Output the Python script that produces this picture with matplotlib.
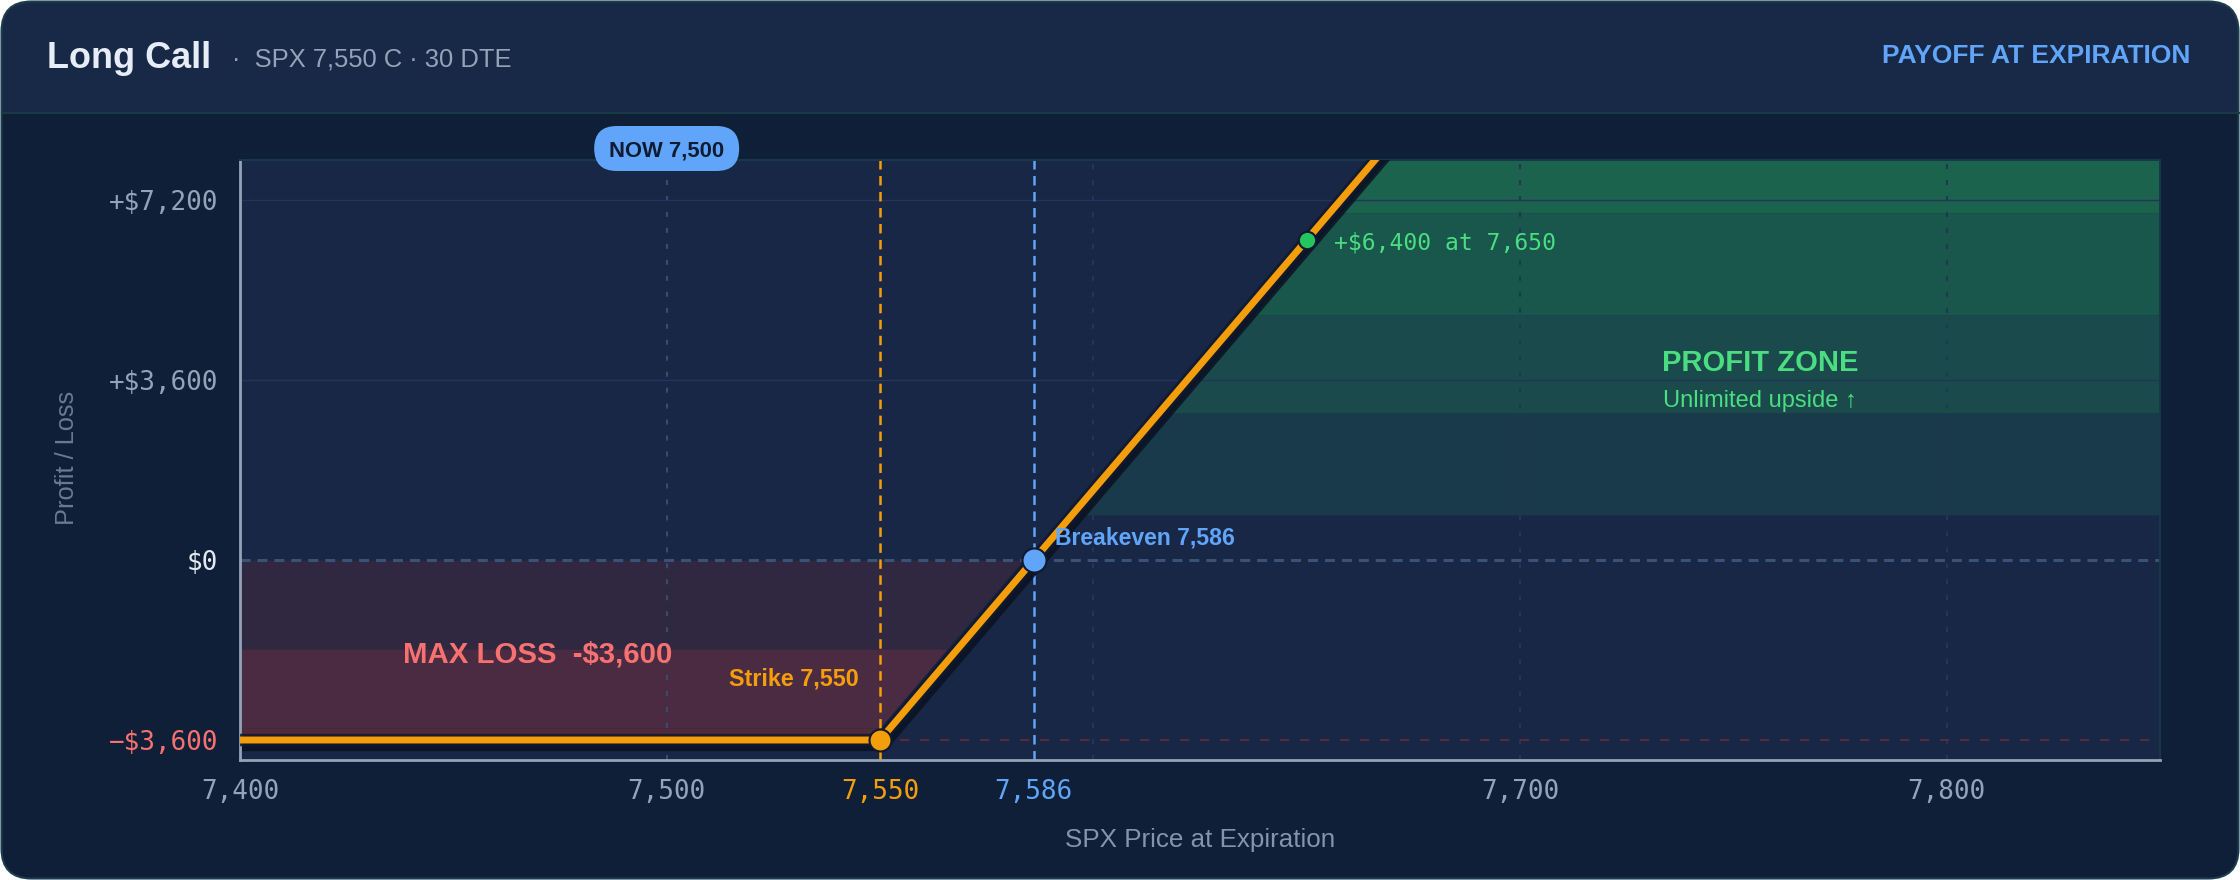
import numpy as np
import matplotlib
matplotlib.use('Agg')
import matplotlib.pyplot as plt
from matplotlib.patches import FancyBboxPatch, Rectangle
from matplotlib.lines import Line2D
from matplotlib.transforms import Affine2D
import matplotlib.patheffects as pe

plt.rcParams['lines.scale_dashes'] = False

# ---------------- data ----------------
strike = 7550
spot = 7500
breakeven = 7586
max_loss = -3600
payoff_price = [7400, 7550, 7850]
payoff_pnl = [-3600, -3600, 26400]
marker_price = 7650
marker_pnl = 6400
x_ticks = [7400, 7500, 7550, 7586, 7700, 7800]
x_tick_labels = ['7,400', '7,500', '7,550', '7,586', '7,700', '7,800']
y_ticks = [-3600, 0, 3600, 7200]
y_tick_labels = ['\u2212$3,600', '$0', '+$3,600', '+$7,200']
x_grid = [7500, 7600, 7700, 7800]
y_grid = [3600, 7200]
xlim = (7400, 7850)
ylim = (-4000, 8000)
profit_bands = [900, 2940, 4900, 6940, 8000]
profit_colors = ['#183a4a', '#1a4a4b', '#19564c', '#1b634d']
loss_bands = [0, -1780, -3360, -3600]
loss_colors = ['#2f2840', '#4a2b42', '#532a3a']

# ---------------- style ----------------
BODY = '#101f38'
HEADER = '#172947'
PLOT_BG = '#172745'
TEAL = '#173a46'
ORANGE = '#f59e0b'
BLUE = '#60a5fa'
GREEN = '#4ade80'
RED = '#f87171'
GRAY = '#94a3b8'
SANS = ['Liberation Sans', 'DejaVu Sans']
MONO = ['DejaVu Sans Mono']

W, H = 2240, 880
fig = plt.figure(figsize=(W / 100, H / 100), dpi=100, facecolor='white')
pix = Affine2D().scale(1 / W, 1 / H) + fig.transFigure


def top(y):
    return H - y


# card background
fig.add_artist(FancyBboxPatch((1.5, 1.5), W - 3, H - 3,
                              boxstyle='round,pad=0,rounding_size=30',
                              transform=pix, fc=BODY, ec='none', zorder=-30))
fig.add_artist(FancyBboxPatch((1.5, top(250)), W - 3, 250 - 1.5,
                              boxstyle='round,pad=0,rounding_size=30',
                              transform=pix, fc=HEADER, ec='none', zorder=-29))
fig.add_artist(Rectangle((1.5, top(300)), W - 3, 300 - 113,
                         transform=pix, fc=BODY, ec='none', zorder=-28))
fig.add_artist(Line2D([1.5, W - 1.5], [top(113), top(113)], transform=pix,
                      color=TEAL, lw=1.5, zorder=-27))
fig.add_artist(FancyBboxPatch((1.5, 1.5), W - 3, H - 3,
                              boxstyle='round,pad=0,rounding_size=30',
                              transform=pix, fc='none', ec='#1b3d4e', lw=1.5,
                              zorder=-20))

# header text
fig.text(47 / W, top(68) / H, 'Long Call', fontsize=25.9, fontweight='bold',
         color='#e6edf7', family=SANS, va='baseline', ha='left')
fig.text(232 / W, top(66) / H, '\u00b7  SPX 7,550 C \u00b7 30 DTE', fontsize=18.4,
         color=GRAY, family=SANS, va='baseline', ha='left')
fig.text(2190 / W, top(63) / H, 'PAYOFF AT EXPIRATION', fontsize=19,
         fontweight='bold', color=BLUE, family=SANS, va='baseline', ha='right')

# axes
ax = fig.add_axes([240 / W, 120 / H, 1920 / W, 600 / H])
ax.set_facecolor(PLOT_BG)
ax.set_xlim(*xlim)
ax.set_ylim(*ylim)
for s in ['top', 'right']:
    ax.spines[s].set_color(TEAL)
    ax.spines[s].set_linewidth(1.4)
for s in ['left', 'bottom']:
    ax.spines[s].set_color(GRAY)
    ax.spines[s].set_linewidth(2.0)


def inv_payoff(y):
    return np.interp(y, payoff_pnl[1:], payoff_price[1:])


gap = 2.5
# profit zone bands
for lo, hi, c in zip(profit_bands[:-1], profit_bands[1:], profit_colors):
    yy = np.linspace(lo, hi, 60)
    ax.fill_betweenx(yy, inv_payoff(yy) + gap, xlim[1], color=c, lw=0, zorder=0.5)
# loss zone bands
for hi, lo, c in zip(loss_bands[:-1], loss_bands[1:], loss_colors):
    yy = np.linspace(lo, hi, 60)
    ax.fill_betweenx(yy, xlim[0], inv_payoff(yy) - gap, color=c, lw=0, zorder=0.5)

# grid
for gx in x_grid:
    c = '#344e73' if gx == spot else '#25355a'
    ax.axvline(gx, color=c, lw=1.5, ls=(0, (3.6, 7.9)), zorder=1)
for gy in y_grid:
    ax.axhline(gy, color='#24345a', lw=1.0, zorder=1)
ax.axhline(0, color='#3b5278', lw=2.2, ls=(0, (7.2, 5.0)), zorder=1.2)
ax.axhline(max_loss, color='#5b2a3a', lw=1.5, ls=(0, (6.7, 7.7)), zorder=1.2)

# strike / breakeven verticals
ax.axvline(strike, color=ORANGE, lw=1.8, ls=(0, (6.8, 4.7)), zorder=2)
ax.axvline(breakeven, color=BLUE, lw=1.8, ls=(0, (6.8, 4.7)), zorder=2)

# payoff line
ax.plot(payoff_price, payoff_pnl, color=ORANGE, lw=5, solid_capstyle='butt',
        solid_joinstyle='round', zorder=3,
        path_effects=[pe.SimpleLineShadow(offset=(1.5, -2.5), shadow_color='#0a1222',
                                          alpha=0.85, linewidth=11),
                      pe.Stroke(linewidth=9, foreground='#121a2e', alpha=0.85),
                      pe.Normal()])

# markers
ax.plot([strike], [max_loss], 'o', ms=15.8, mfc=ORANGE, mec='#0f1a30', mew=1.5, zorder=5)
ax.plot([breakeven], [0], 'o', ms=17.3, mfc=BLUE, mec='#0f1a30', mew=1.5, zorder=5)
ax.plot([marker_price], [marker_pnl], 'o', ms=12.5, mfc='#22c55e', mec='#0f1a30',
        mew=1.5, zorder=5)

# annotations
ax.annotate('Breakeven 7,586', xy=(breakeven, 0), xytext=(15.4, 11.5),
            textcoords='offset points', fontsize=16.6, fontweight='bold',
            color=BLUE, family=SANS, va='baseline', ha='left', zorder=6)
ax.annotate('+$6,400 at 7,650', xy=(marker_price, marker_pnl), xytext=(19.7, -6.5),
            textcoords='offset points', fontsize=16.6, color=GREEN, family=MONO,
            va='baseline', ha='left', zorder=6)
ax.annotate('Strike 7,550', xy=(strike, max_loss), xytext=(-15, 39.6),
            textcoords='offset points', fontsize=16.8, fontweight='bold',
            color=ORANGE, family=SANS, va='baseline', ha='right', zorder=6)
ax.text(0.0849, 0.1617, 'MAX LOSS  -$3,600', transform=ax.transAxes, fontsize=21.2,
        fontweight='bold', color=RED, family=SANS, va='baseline', ha='left', zorder=6)
ax.text(0.7917, 0.6483, 'PROFIT ZONE', transform=ax.transAxes, fontsize=21,
        fontweight='bold', color=GREEN, family=SANS, va='baseline', ha='center', zorder=6)
ax.text(0.7917, 0.5883, 'Unlimited upside \u2191', transform=ax.transAxes, fontsize=17,
        color=GREEN, family=SANS, va='baseline', ha='center', zorder=6)

# ticks
ax.set_xticks(x_ticks, x_tick_labels)
ax.set_yticks(y_ticks, y_tick_labels)
ax.tick_params(axis='both', length=0, labelsize=18.7, labelcolor=GRAY)
ax.tick_params(axis='x', pad=14)
ax.tick_params(axis='y', pad=15.8)
for t in ax.get_xticklabels() + ax.get_yticklabels():
    t.set_fontfamily(MONO)
xcol = {7550: ORANGE, 7586: BLUE}
for v, t in zip(x_ticks, ax.get_xticklabels()):
    t.set_color(xcol.get(v, GRAY))
ycol = {-3600: RED, 0: '#e2e8f0'}
for v, t in zip(y_ticks, ax.get_yticklabels()):
    t.set_color(ycol.get(v, GRAY))

# axis labels
fig.text(67 / W, top(458) / H, 'Profit / Loss', rotation=90, fontsize=18.3,
         color='#6b7a92', family=SANS, ha='center', va='center')
fig.text(1200 / W, top(840) / H, 'SPX Price at Expiration', fontsize=18.7,
         color='#8494ad', family=SANS, ha='center', va='center')

# NOW badge
disp = ax.transData.transform((spot, 0))
cx = fig.transFigure.inverted().transform(disp)[0] * W
cy = top(148.5)
fig.add_artist(FancyBboxPatch((cx - 72.5, cy - 22.5), 145, 45,
                              boxstyle='round,pad=0,rounding_size=22.5',
                              transform=pix, fc=BLUE, ec='none', zorder=10))
fig.text(cx / W, top(156) / H, 'NOW 7,500', fontsize=15.8, fontweight='bold',
         color='#0f1b33', family=SANS, ha='center', va='baseline', zorder=11)

fig.savefig('out.png', dpi=100, facecolor='white')
